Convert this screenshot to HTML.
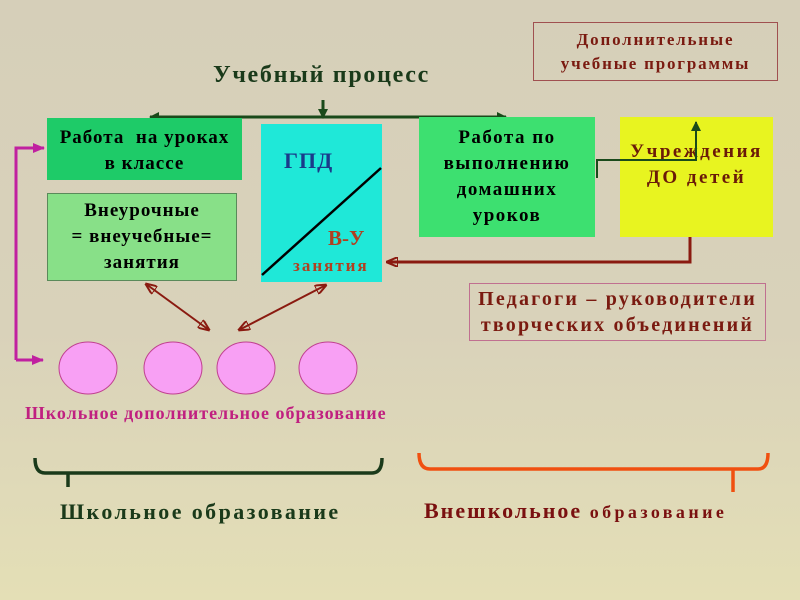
<!DOCTYPE html>
<html><head><meta charset="utf-8"><style>
body{margin:0}
#c{position:relative;width:800px;height:600px;overflow:hidden;background:linear-gradient(#d6cfb9 0%,#d9d2ba 55%,#e4dfb6 100%);font-family:"Liberation Serif",serif;font-weight:bold}
.b{position:absolute;box-sizing:border-box;display:flex;align-items:center;justify-content:center;text-align:center;line-height:26px;font-size:19px;letter-spacing:1px}
.t{position:absolute;white-space:nowrap}
</style></head><body><div id="c">
<svg width="800" height="600" style="position:absolute;left:0;top:0">
<defs>
<marker id="g" markerWidth="10" markerHeight="10" refX="9" refY="5" orient="auto" markerUnits="userSpaceOnUse"><path d="M0,0 L10,5 L0,10 Z" fill="#1a4a1a"/></marker>
<marker id="r" markerWidth="12" markerHeight="10" refX="11" refY="5" orient="auto" markerUnits="userSpaceOnUse"><path d="M0,0 L12,5 L0,10 Z" fill="none" stroke="#8a1a10" stroke-width="2"/></marker>
<marker id="rs" markerWidth="12" markerHeight="10" refX="1" refY="5" orient="auto" markerUnits="userSpaceOnUse"><path d="M12,0 L0,5 L12,10 Z" fill="none" stroke="#8a1a10" stroke-width="2"/></marker>
<marker id="m" markerWidth="12" markerHeight="10" refX="11" refY="5" orient="auto" markerUnits="userSpaceOnUse"><path d="M0,0 L12,5 L0,10 Z" fill="#c020a0"/></marker>
</defs>
<line x1="323" y1="117" x2="150" y2="117" stroke="#1a4a1a" stroke-width="3" marker-end="url(#g)"/>
<line x1="323" y1="117" x2="506" y2="117" stroke="#1a4a1a" stroke-width="3" marker-end="url(#g)"/>
<line x1="323" y1="100" x2="323" y2="118" stroke="#1a4a1a" stroke-width="3" marker-end="url(#g)"/>
<polyline points="16,360 16,148 44,148" fill="none" stroke="#c020a0" stroke-width="3" marker-end="url(#m)"/>
<line x1="16" y1="360" x2="43" y2="360" stroke="#c020a0" stroke-width="3" marker-end="url(#m)"/>
</svg>
<div class="b" style="left:47px;top:120px;width:195px;height:62px;background:#1ecb68;top:118px;padding-top:3px">Работа&nbsp; на уроках<br>в классе</div>
<div class="b" style="left:47px;top:193px;width:190px;height:88px;background:#88e088;border:1px solid #5a8a5a">Внеурочные<br>= внеучебные=<br>занятия</div>
<div class="b" style="left:261px;top:124px;width:121px;height:158px;background:#1fe8d8"></div>
<div class="b" style="left:419px;top:117px;width:176px;height:120px;background:#3de070;letter-spacing:1.5px">Работа по<br>выполнению<br>домашних<br>уроков</div>
<div class="b" style="left:620px;top:117px;width:153px;height:120px;background:#e8f420;color:#6a1a08;align-items:flex-start;padding-top:22px;letter-spacing:2.5px">Учреждения<br>ДО детей</div>
<div class="b" style="left:533px;top:22px;width:245px;height:59px;border:1px solid #a05050;font-size:17px;letter-spacing:1.8px;line-height:24px;color:#7a1a10">Дополнительные<br>учебные программы</div>
<div class="b" style="left:469px;top:283px;width:297px;height:58px;border:1px solid #c07090;font-size:20px;letter-spacing:2.2px;color:#7a1a10">Педагоги – руководители<br>творческих объединений</div>
<div class="t" style="left:213px;top:62px;font-size:24px;letter-spacing:1.7px;color:#1a3a1a">Учебный процесс</div>
<div class="t" style="left:284px;top:148px;font-size:22px;letter-spacing:1px;color:#1a3a8a">ГПД</div>
<div class="t" style="left:328px;top:226px;font-size:21px;letter-spacing:0px;color:#b04020">В-У</div>
<div class="t" style="left:293px;top:256px;font-size:17px;letter-spacing:2px;color:#b04020">занятия</div>
<div class="t" style="left:25px;top:403px;font-size:18px;letter-spacing:1px;color:#c02080">Школьное дополнительное образование</div>
<div class="t" style="left:60px;top:499px;font-size:22px;letter-spacing:2.4px;color:#1a3a1a">Школьное образование</div>
<div class="t" style="left:424px;top:498px;font-size:22px;letter-spacing:2px;color:#7a1010">Внешкольное <span style="font-size:18px;letter-spacing:3.4px">образование</span></div>
<svg width="800" height="600" style="position:absolute;left:0;top:0">
<line x1="262" y1="275" x2="381" y2="168" stroke="#000" stroke-width="2.5"/>
<polyline points="597,178 597,160 696,160 696,122" fill="none" stroke="#1a4a1a" stroke-width="2" marker-end="url(#g)"/>
<polyline points="690,237 690,262 387,262" fill="none" stroke="#8a1a10" stroke-width="3" marker-end="url(#r)"/>
<line x1="146" y1="284" x2="209" y2="330" stroke="#8a1a10" stroke-width="2" marker-start="url(#rs)" marker-end="url(#r)"/>
<line x1="326" y1="285" x2="239" y2="330" stroke="#8a1a10" stroke-width="2" marker-start="url(#rs)" marker-end="url(#r)"/>
<g fill="#f8a0f4" stroke="#c04090" stroke-width="1">
<ellipse cx="88" cy="368" rx="29" ry="26"/><ellipse cx="173" cy="368" rx="29" ry="26"/>
<ellipse cx="246" cy="368" rx="29" ry="26"/><ellipse cx="328" cy="368" rx="29" ry="26"/></g>
<path d="M35,458 Q35,473 45,473 L372,473 Q382,473 382,458 M68,473 L68,487" fill="none" stroke="#1a3a1a" stroke-width="3.5"/>
<path d="M419,453 Q419,469 430,469 L758,469 Q768,469 768,453 M733,469 L733,492" fill="none" stroke="#f05010" stroke-width="3.5"/>
</svg>
</div></body></html>
